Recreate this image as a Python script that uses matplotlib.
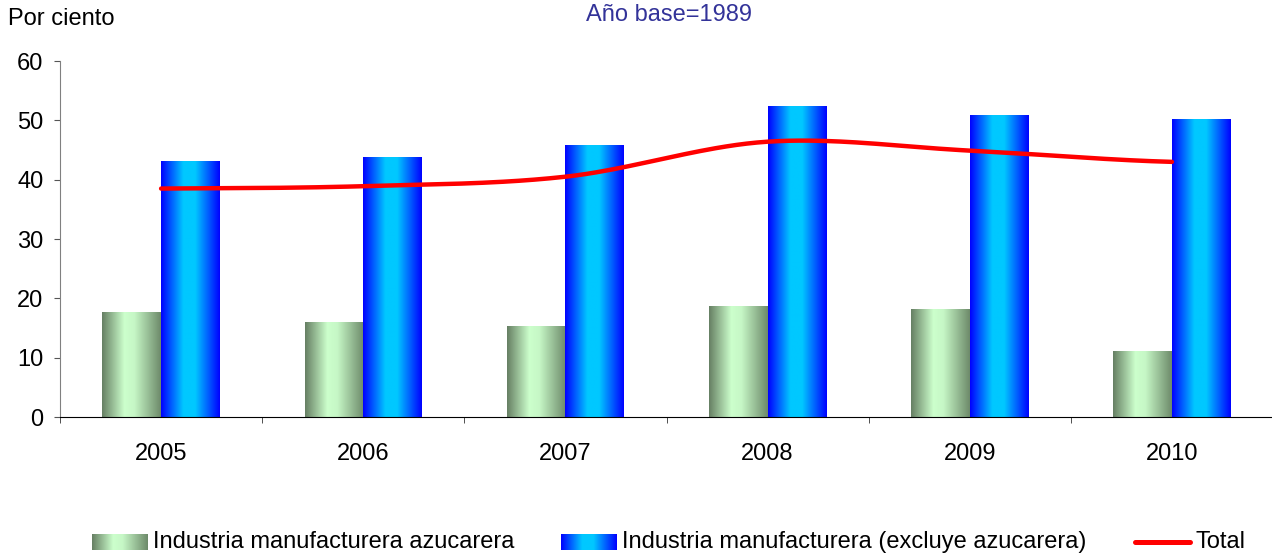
import numpy as np
import matplotlib
matplotlib.use("Agg")
import matplotlib.pyplot as plt
from matplotlib.colors import LinearSegmentedColormap

plt.rcParams['font.family'] = ['Liberation Sans', 'DejaVu Sans']

# ---- data ----
years = ['2005', '2006', '2007', '2008', '2009', '2010']
azucarera = [17.6, 15.9, 15.3, 18.7, 18.2, 11.0]
excluye = [43.0, 43.7, 45.7, 52.3, 50.8, 50.1]
total = [38.5, 38.9, 40.5, 46.4, 44.9, 43.0]

lbl_azu = 'Industria manufacturera azucarera'
lbl_exc = 'Industria manufacturera (excluye azucarera)'
lbl_tot = 'Total'

W, H = 1272, 558
FS = 17

# horizontal "cylinder" gradients
green_cm = LinearSegmentedColormap.from_list(
    'g', [(0, '#667f63'), (0.38, '#ccffcc'), (0.55, '#c6f7c6'), (1, '#6d8a6a')])
blue_cm = LinearSegmentedColormap.from_list(
    'b', [(0, '#0000ff'), (0.38, '#00c8ff'), (0.58, '#00c8ff'), (1, '#0000ff')])
grad = np.linspace(0, 1, 256).reshape(1, -1)


def grad_rect(ax, x0, x1, y0, y1, cmap, z=2):
    ax.imshow(grad, cmap=cmap, extent=(x0, x1, y0, y1), aspect='auto',
              interpolation='bilinear', zorder=z)


def smooth(xs, ys, n=40):
    # Catmull-Rom / Excel style smoothed line through the points
    px = np.concatenate([[2 * xs[0] - xs[1]], xs, [2 * xs[-1] - xs[-2]]])
    py = np.concatenate([[ys[0]], ys, [ys[-1]]])
    ox, oy = [], []
    t = np.linspace(0, 1, n)
    for i in range(1, len(px) - 2):
        p0, p1, p2, p3 = [np.array([px[j], py[j]]) for j in (i - 1, i, i + 1, i + 2)]
        c1 = p1 + (p2 - p0) / 6
        c2 = p2 - (p3 - p1) / 6
        b = ((1 - t) ** 3)[:, None] * p1 + (3 * (1 - t) ** 2 * t)[:, None] * c1 \
            + (3 * (1 - t) * t ** 2)[:, None] * c2 + (t ** 3)[:, None] * p2
        ox.extend(b[:, 0]); oy.extend(b[:, 1])
    return np.array(ox), np.array(oy)


fig = plt.figure(figsize=(W / 100, H / 100), dpi=100)
ax = fig.add_axes([60 / W, (H - 417) / H, 1213 / W, (417 - 61) / H])

x = np.arange(len(years))
bw = 0.29
bars_a = ax.bar(x - bw / 2, azucarera, bw, color='none', zorder=2)
bars_e = ax.bar(x + bw / 2, excluye, bw, color='none', zorder=2)
for b in bars_a:
    grad_rect(ax, b.get_x(), b.get_x() + b.get_width(), 0, b.get_height(), green_cm)
for b in bars_e:
    grad_rect(ax, b.get_x(), b.get_x() + b.get_width(), 0, b.get_height(), blue_cm)

sx, sy = smooth(x.astype(float), np.array(total))
ax.plot(sx, sy, color='#ff0000', lw=3.2, solid_capstyle='round', zorder=4)

ax.set_xlim(-0.5, len(years) - 0.5)
ax.set_ylim(0, 60)
ax.set_yticks(range(0, 61, 10))
ax.tick_params(axis='y', labelsize=FS, length=4, pad=8, color='#555555')
ax.set_xticks(x)
ax.set_xticklabels(years)
ax.tick_params(axis='x', which='major', length=0, labelsize=FS, pad=19)
ax.set_xticks(np.arange(-0.5, len(years), 1), minor=True)
ax.tick_params(axis='x', which='minor', length=4.5, color='#333333')
for s in ('top', 'right'):
    ax.spines[s].set_visible(False)
ax.spines['left'].set_color('#808080')
ax.spines['bottom'].set_color('#000000')

fig.text(8 / W, 1 - 19 / H, 'Por ciento', fontsize=FS, ha='left', va='center')
fig.text(669 / W, 1 - 15 / H, 'Año base=1989', fontsize=FS, ha='center',
         va='center', color='#333399')

# ---- legend drawn in pixel space ----
lax = fig.add_axes([0, 0, 1, 1], zorder=-1)
lax.set_xlim(0, W)
lax.set_ylim(H, 0)
lax.axis('off')
ly = 542
grad_rect(lax, 92, 148, ly + 8, ly - 8, green_cm)
lax.text(153, ly, lbl_azu, fontsize=FS, va='center', ha='left')
grad_rect(lax, 561, 617, ly + 8, ly - 8, blue_cm)
lax.text(622, ly, lbl_exc, fontsize=FS, va='center', ha='left')
lax.plot([1135, 1190], [ly, ly], color='#ff0000', lw=3.6, solid_capstyle='round')
lax.text(1196, ly, lbl_tot, fontsize=FS, va='center', ha='left')
lax.set_xlim(0, W)
lax.set_ylim(H, 0)

fig.savefig('out.png', dpi=100)
